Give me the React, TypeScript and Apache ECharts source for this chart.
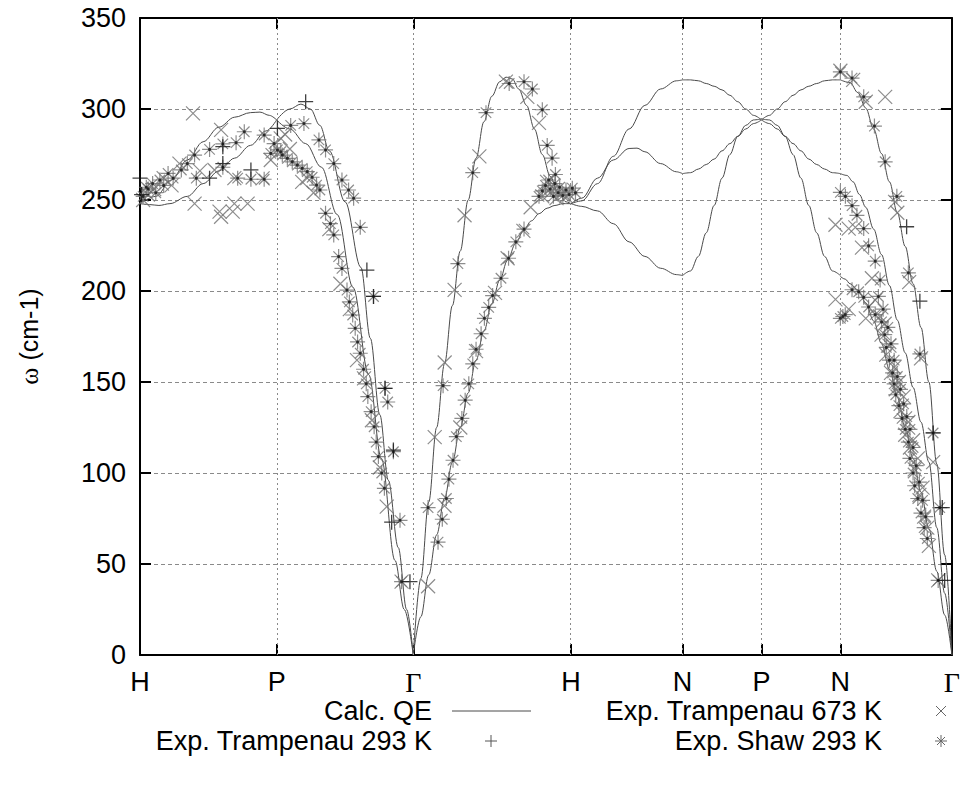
import React, { useEffect, useRef } from 'react';
import * as echarts from 'echarts';

// ---- axes ----
const symPos = [0, 0.866, 1.732, 2.732, 3.439, 3.939, 4.439, 5.146];
const symLabels = ['H', 'P', 'Γ', 'H', 'N', 'P', 'N', 'Γ'];
const yMin = 0;
const yMax = 350;
const yStep = 50;

// ---- Calc. QE branches [path, omega] ----
const calcHP_upper = [[0, 248], [0.1, 252], [0.2, 261], [0.3, 272], [0.4, 282], [0.5, 290], [0.6, 295.5], [0.7, 298], [0.76, 298.3], [0.82, 296.5], [0.866, 294]];
const calcHP_lower = [[0, 248], [0.06, 247.5], [0.12, 247], [0.19, 248], [0.3, 252], [0.4, 259], [0.5, 266], [0.6, 273], [0.7, 280], [0.8, 288], [0.866, 294]];
const calcPG_upper = [[0.866, 294], [0.95, 300], [1.02, 302.7], [1.08, 300], [1.14, 291], [1.2, 277], [1.3, 249], [1.4, 213], [1.46, 174], [1.52, 132], [1.574, 96], [1.637, 59], [1.69, 25], [1.732, 0]];
const calcPG_lower = [[0.866, 294], [0.95, 289], [1.05, 281], [1.15, 268], [1.25, 242], [1.35, 202], [1.45, 154], [1.53, 108], [1.616, 52], [1.675, 25], [1.732, 0]];
const calcGH_long = [[1.732, 0], [1.78, 42], [1.83, 84], [1.88, 125], [1.93, 160], [1.98, 192], [2.03, 222], [2.08, 250], [2.13, 273], [2.18, 293], [2.23, 307], [2.28, 315], [2.32, 317.5], [2.36, 316.5], [2.4, 311], [2.45, 302], [2.5, 289], [2.55, 275], [2.6, 263], [2.65, 254], [2.7, 249], [2.732, 248]];
const calcGH_trans = [[1.732, 0], [1.78, 21], [1.83, 44], [1.88, 66], [1.93, 86], [1.98, 106], [2.03, 125], [2.08, 144], [2.13, 162], [2.18, 178], [2.23, 193], [2.28, 206], [2.33, 217], [2.38, 226], [2.43, 233], [2.48, 238.5], [2.53, 242.5], [2.58, 245.5], [2.63, 247], [2.68, 248], [2.732, 248]];
const calcHN_upper = [[2.732, 248], [2.8, 249.5], [2.9, 259], [3.0, 274], [3.1, 289], [3.2, 302], [3.3, 311], [3.4, 315.5], [3.439, 316]];
const calcHN_middle = [[2.732, 248], [2.8, 251], [2.9, 262], [3.0, 272], [3.1, 278.3], [3.15, 278.5], [3.2, 276.5], [3.3, 270], [3.4, 265.5], [3.439, 264.5]];
const calcHN_lower = [[2.732, 248], [2.8, 246.5], [2.9, 244], [3.0, 237], [3.1, 227], [3.2, 219], [3.3, 212.5], [3.4, 209], [3.439, 208.5]];
const calcNP_upper = [[3.439, 316], [3.489, 316], [3.539, 315.5], [3.589, 314], [3.639, 312.5], [3.689, 310.5], [3.739, 307.5], [3.789, 304], [3.839, 300], [3.889, 296.5], [3.939, 294]];
const calcNP_middle = [[3.439, 264.5], [3.489, 265], [3.539, 267], [3.589, 269.5], [3.639, 272.5], [3.689, 277], [3.739, 281], [3.789, 285], [3.839, 289], [3.889, 292], [3.939, 294]];
const calcNP_lower = [[3.439, 208.5], [3.489, 211], [3.539, 219], [3.589, 232], [3.639, 247], [3.689, 262], [3.739, 275], [3.789, 285], [3.839, 291], [3.889, 294], [3.939, 294.5]];
const calcPN_upper = [[3.939, 294], [3.989, 296.5], [4.039, 300], [4.089, 304], [4.139, 307.5], [4.189, 310.5], [4.239, 312.5], [4.289, 314], [4.339, 315.5], [4.389, 316], [4.439, 316]];
const calcPN_middle = [[3.939, 294], [3.989, 292], [4.039, 289], [4.089, 285], [4.139, 281], [4.189, 277], [4.239, 272.5], [4.289, 269.5], [4.339, 267], [4.389, 265], [4.439, 264.5]];
const calcPN_lower = [[3.939, 294.5], [3.989, 294], [4.039, 291], [4.089, 285], [4.139, 275], [4.189, 262], [4.239, 247], [4.289, 232], [4.339, 219], [4.389, 211], [4.439, 208.5]];
const calcNG_upper = [[4.439, 316], [4.5, 314.5], [4.55, 309], [4.6, 300.5], [4.65, 289], [4.7, 275.5], [4.75, 260], [4.8, 243], [4.85, 224.5], [4.9, 204], [4.95, 180], [5.0, 150], [5.05, 105], [5.1, 55], [5.146, 0]];
const calcNG_middle = [[4.439, 264.5], [4.48, 263.5], [4.52, 260], [4.56, 253], [4.6, 246], [4.65, 234], [4.7, 220], [4.75, 203], [4.8, 184], [4.85, 166], [4.9, 147], [4.95, 128], [5.0, 106], [5.05, 70], [5.1, 34], [5.146, 0]];
const calcNG_lower = [[4.439, 208], [4.47, 206.5], [4.5, 204], [4.55, 200.5], [4.6, 193.5], [4.65, 183.5], [4.7, 171], [4.75, 157], [4.8, 141.5], [4.85, 125], [4.9, 108], [4.95, 89.5], [5.0, 69.5], [5.05, 46], [5.1, 22], [5.146, 0]];

// ---- Exp. Shaw 293 K ----
const shawHP = [[0.02, 252], [0.04, 257], [0.052, 256], [0.08, 259], [0.1, 254], [0.126, 261], [0.15, 258], [0.178, 264.6], [0.21, 262], [0.262, 266.5], [0.3, 270], [0.346, 274.7], [0.357, 262], [0.441, 277.8], [0.525, 280.8], [0.525, 268], [0.609, 281.5], [0.619, 262], [0.661, 287.5], [0.703, 261.4], [0.787, 285.7], [0.787, 261.4], [0.85, 281], [0.892, 276.5]];
const shawPG = [[0.829, 275.6], [0.871, 277.5], [0.902, 274.7], [0.934, 272.9], [0.965, 271], [0.997, 269.2], [1.028, 267.4], [1.06, 265.6], [1.091, 262.5], [1.119, 258.2], [1.14, 255.5], [1.176, 242.7], [1.207, 237], [1.228, 230.8], [1.259, 218.9], [1.28, 212.4], [1.312, 200.5], [1.327, 194], [1.348, 186.8], [1.364, 179.5], [1.379, 172], [1.396, 165.8], [1.417, 157], [1.434, 149], [1.444, 142], [1.465, 133.7], [1.484, 125.4], [1.497, 117], [1.511, 109], [1.532, 100], [1.549, 91.6],
  [0.955, 291], [1.039, 292], [1.134, 283], [1.176, 277.5], [1.228, 270], [1.28, 261], [1.322, 255.5], [1.354, 251], [1.396, 235], [1.48, 197], [1.553, 146.5], [1.57, 139], [1.606, 111.7], [1.648, 74], [1.658, 40.3]];
const shawGH = [[1.826, 81], [1.921, 148], [2.015, 215], [2.109, 265], [2.193, 298], [2.34, 314], [2.434, 315], [2.487, 311], [2.55, 299.6], [2.581, 280], [2.612, 273], [2.633, 264],
  [1.889, 62], [1.916, 74.6], [1.942, 86], [1.958, 96.6], [1.984, 107], [2.005, 120], [2.04, 130], [2.061, 140], [2.084, 149], [2.109, 160], [2.13, 168], [2.162, 176.5], [2.183, 185], [2.21, 191], [2.235, 197.5], [2.288, 207], [2.336, 218], [2.382, 227], [2.434, 234], [2.529, 252],
  [2.55, 255], [2.57, 258], [2.6, 256], [2.62, 252], [2.63, 259], [2.65, 254], [2.66, 257], [2.68, 252.5], [2.7, 255.5], [2.72, 253], [2.74, 256.5], [2.76, 254], [2.59, 261]];
const shawNG = [[4.439, 320.4], [4.513, 317], [4.587, 306.7], [4.655, 290.6], [4.723, 271], [4.797, 252], [4.87, 210], [4.943, 165.4], [5.027, 122], [5.069, 81], [5.059, 41],
  [4.439, 254.2], [4.471, 252], [4.513, 246.9], [4.544, 241.6], [4.587, 234.3], [4.618, 224.8], [4.66, 216.4], [4.691, 206],
  [4.439, 185], [4.455, 186], [4.47, 187], [4.513, 200.7], [4.555, 199.6], [4.587, 196.5], [4.618, 191.2], [4.66, 187],
  [4.68, 197], [4.7, 183], [4.71, 190], [4.72, 176], [4.73, 169], [4.74, 180], [4.75, 162], [4.76, 171], [4.77, 155], [4.78, 149], [4.78, 162], [4.79, 143], [4.8, 153], [4.81, 137], [4.82, 146], [4.83, 130], [4.84, 138], [4.85, 124], [4.86, 131], [4.87, 117], [4.88, 124], [4.88, 108], [4.9, 114], [4.9, 100], [4.91, 93], [4.92, 104], [4.93, 86], [4.94, 95], [4.95, 78], [4.96, 85], [4.97, 70], [4.98, 76], [4.99, 64]];

// ---- Exp. Trampenau 673 K ----
const t673HP = [[0.02, 250], [0.05, 253], [0.09, 256], [0.15, 262], [0.2, 258], [0.25, 270], [0.336, 297.6], [0.346, 248], [0.38, 266], [0.472, 266.5], [0.504, 243.6], [0.514, 288.5], [0.514, 240.8], [0.588, 243.6], [0.598, 248], [0.598, 262], [0.682, 248], [0.777, 261.9], [0.829, 272], [0.892, 283.9], [0.92, 286]];
const t673PG = [[0.95, 278], [1.028, 260], [1.06, 262], [1.1, 254], [1.2, 234], [1.27, 204], [1.33, 190], [1.375, 162], [1.42, 152], [1.47, 129], [1.52, 103], [1.564, 81.5], [1.658, 40.3]];
const t673GH = [[1.826, 37.8], [1.868, 119.7], [1.931, 160.7], [1.994, 200.6], [2.057, 241.6], [2.151, 274], [2.319, 315], [2.455, 306.7], [2.529, 292.4], [2.476, 246], [2.55, 252], [2.6, 254], [2.64, 251], [2.7, 252], [2.58, 260],
  [1.93, 82], [2.03, 125], [2.13, 167], [2.25, 199], [2.33, 218], [2.43, 233]];
const t673NG = [[4.439, 321], [4.52, 316], [4.6, 304], [4.723, 306.7], [4.786, 249], [4.8, 243], [4.875, 204.9], [4.95, 163], [5.027, 106], [5.059, 41],
  [4.408, 236.4], [4.492, 234.3], [4.534, 235], [4.576, 223.8], [4.639, 207],
  [4.408, 195.4], [4.492, 190], [4.6, 185],
  [4.66, 195], [4.69, 186], [4.7, 176], [4.72, 182], [4.73, 165], [4.75, 170], [4.76, 155], [4.78, 158], [4.79, 146], [4.81, 150], [4.82, 134], [4.84, 142], [4.85, 121], [4.87, 128], [4.88, 114], [4.9, 118], [4.91, 102], [4.93, 108], [4.94, 88], [4.96, 92], [4.97, 76], [4.99, 70], [5.0, 60]];

// ---- Exp. Trampenau 293 K ----
const t293 = [[0, 262], [0.01, 253], [0.441, 262], [0.525, 279.3], [0.525, 270], [0.703, 266.5], [0.871, 289.4], [1.05, 304], [1.438, 211.5], [1.48, 197], [1.553, 146.5], [1.606, 112.6], [1.595, 73], [1.711, 40.3], [4.859, 235.3], [4.943, 194.4], [5.027, 122], [5.085, 81], [5.1, 41]];

const calcBranches = [calcHP_upper, calcHP_lower, calcPG_upper, calcPG_lower, calcGH_long, calcGH_trans, calcHN_upper, calcHN_middle, calcHN_lower, calcNP_upper, calcNP_middle, calcNP_lower, calcPN_upper, calcPN_middle, calcPN_lower, calcNG_upper, calcNG_middle, calcNG_lower];
const shawAll = [...shawHP, ...shawPG, ...shawGH, ...shawNG];
const t673All = [...t673HP, ...t673PG, ...t673GH, ...t673NG];

const crossPath = 'path://M0,0L10,10M10,0L0,10';
const plusPath = 'path://M5,0L5,10M0,5L10,5';
const starPath = 'path://M5,0L5,10M0,5L10,5M1.5,1.5L8.5,8.5M8.5,1.5L1.5,8.5';

const FONT = 'Liberation Sans';
const SERIF = 'Liberation Serif';
const FS = 27;
const MARK = '#707070';

export default function App() {
  const ref = useRef<HTMLDivElement>(null);
  useEffect(() => {
    if (!ref.current) return;
    const chart = echarts.init(ref.current, undefined, { renderer: 'svg' });
    const fmtX = (v: number) => {
      let best = 0;
      for (let i = 0; i < symPos.length; i++) if (Math.abs(symPos[i] - v) < Math.abs(symPos[best] - v)) best = i;
      const l = symLabels[best];
      return l === 'Γ' ? '{g|Γ}' : l;
    };
    const axisLineStyle = { color: '#000', width: 2 };
    const calcSeries = calcBranches.map((b, i) => ({
      type: 'line',
      name: 'Calc. QE',
      data: b,
      showSymbol: false,
      smooth: 0.35,
      smoothMonotone: 'x',
      lineStyle: { color: '#4a4a4a', width: 1 },
      silent: true,
      z: 2,
      markLine: i === 0 ? {
        silent: true,
        symbol: 'none',
        label: { show: false },
        lineStyle: { color: '#8a8a8a', type: [2, 3], width: 1 },
        data: symPos.slice(1, symPos.length - 1).map((p) => ({ xAxis: p })),
      } : undefined,
    }));
    const legendText = (text: string, x: number, y: number) => ({
      type: 'text', x, y,
      style: { text, font: `${FS}px "${FONT}"`, fill: '#000', textAlign: 'right', textVerticalAlign: 'middle' },
    });
    const seg = (x1: number, y1: number, x2: number, y2: number, c: string) => ({
      type: 'line', shape: { x1, y1, x2, y2 }, style: { stroke: c, lineWidth: 1 },
    });
    const option: any = {
      animation: false,
      backgroundColor: '#ffffff',
      grid: { left: 140, right: 6, top: 18, bottom: 130 },
      xAxis: [
        {
          type: 'value', min: symPos[0], max: symPos[symPos.length - 1], position: 'bottom',
          axisLine: { show: true, onZero: false, lineStyle: axisLineStyle },
          axisTick: { show: true, inside: true, length: 11, customValues: symPos, lineStyle: axisLineStyle },
          axisLabel: {
            show: true, customValues: symPos, margin: 13, formatter: fmtX,
            color: '#000', fontSize: FS, fontFamily: FONT,
            rich: { g: { fontFamily: SERIF, fontSize: FS + 1, color: '#000' } },
          },
          splitLine: { show: false },
        },
        {
          type: 'value', min: symPos[0], max: symPos[symPos.length - 1], position: 'top',
          axisLine: { show: true, onZero: false, lineStyle: axisLineStyle },
          axisTick: { show: true, inside: true, length: 11, customValues: symPos, lineStyle: axisLineStyle },
          axisLabel: { show: false },
          splitLine: { show: false },
        },
      ],
      yAxis: [
        {
          type: 'value', min: yMin, max: yMax, interval: yStep, position: 'left',
          name: '{w|ω} (cm-1)', nameLocation: 'middle', nameGap: 98,
          nameTextStyle: { fontSize: 25, fontFamily: FONT, color: '#000', rich: { w: { fontFamily: SERIF, fontSize: 26, color: '#000' } } },
          axisLine: { show: true, onZero: false, lineStyle: axisLineStyle },
          axisTick: { show: true, inside: true, length: 11, lineStyle: axisLineStyle },
          axisLabel: { margin: 14, fontSize: FS, fontFamily: FONT, color: '#000' },
          splitLine: { show: true, lineStyle: { color: '#8a8a8a', type: [4, 3], width: 1 } },
        },
        {
          type: 'value', min: yMin, max: yMax, interval: yStep, position: 'right',
          axisLine: { show: true, onZero: false, lineStyle: axisLineStyle },
          axisTick: { show: true, inside: true, length: 11, lineStyle: axisLineStyle },
          axisLabel: { show: false },
          splitLine: { show: false },
        },
      ],
      series: [
        ...calcSeries,
        {
          type: 'scatter', name: 'Exp. Trampenau 673 K', data: t673All, symbol: crossPath, symbolSize: 14,
          itemStyle: { color: 'rgba(0,0,0,0)', borderColor: MARK, borderWidth: 1.2 }, silent: true, z: 3,
        },
        {
          type: 'scatter', name: 'Exp. Shaw 293 K', data: shawAll, symbol: starPath, symbolSize: 15,
          itemStyle: { color: 'rgba(0,0,0,0)', borderColor: MARK, borderWidth: 1.2 }, silent: true, z: 4,
        },
        {
          type: 'scatter', name: 'Shaw centre', data: shawAll, symbol: 'circle', symbolSize: 3,
          itemStyle: { color: '#111' }, silent: true, z: 5,
        },
        {
          type: 'scatter', name: 'Exp. Trampenau 293 K', data: t293, symbol: plusPath, symbolSize: 15,
          itemStyle: { color: 'rgba(0,0,0,0)', borderColor: '#111', borderWidth: 1.3 }, silent: true, z: 6,
        },
      ],
      graphic: [
        legendText('Calc. QE', 432, 711),
        seg(452, 711, 531, 711, '#4a4a4a'),
        legendText('Exp. Trampenau 293 K', 432, 741),
        seg(485, 741, 497, 741, '#555'),
        seg(491, 735, 491, 747, '#555'),
        legendText('Exp. Trampenau 673 K', 882, 711),
        seg(936, 706, 946, 716, '#666'),
        seg(946, 706, 936, 716, '#666'),
        legendText('Exp. Shaw 293 K', 882, 741),
        seg(935, 741, 947, 741, '#666'),
        seg(941, 735, 941, 747, '#666'),
        seg(937, 737, 945, 745, '#666'),
        seg(945, 737, 937, 745, '#666'),
      ],
    };
    chart.setOption(option);
    return () => chart.dispose();
  }, []);
  return <div ref={ref} style={{ position: 'fixed', left: 0, top: 0, width: 963, height: 785, background: '#fff' }} />;
}
